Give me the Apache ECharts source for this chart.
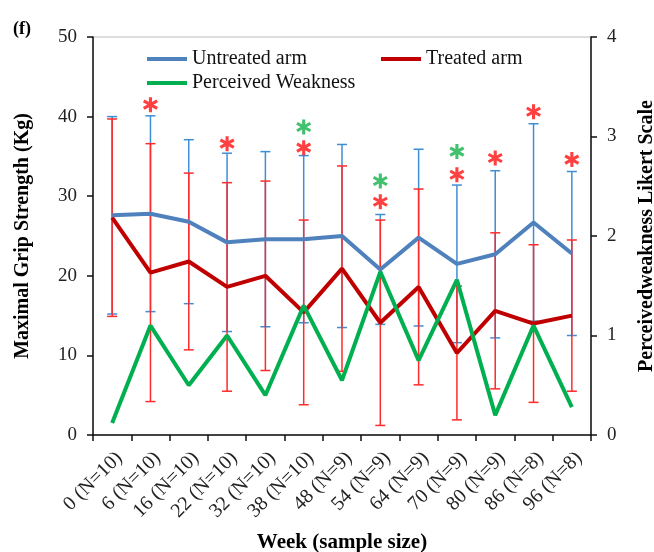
<!DOCTYPE html>
<html>
<head>
<meta charset="utf-8">
<script src="https://cdn.jsdelivr.net/npm/echarts@6/dist/echarts.min.js"></script>
<style>html,body{margin:0;padding:0;background:#fff}#c{width:654px;height:552px}</style>
</head>
<body>
<div id="c"></div>
<script>
var categories = ['0 (N=10)','6 (N=10)','16 (N=10)','22 (N=10)','32 (N=10)','38 (N=10)','48 (N=9)','54 (N=9)','64 (N=9)','70 (N=9)','80 (N=9)','86 (N=8)','96 (N=8)'];
var untreatedMean = [27.6, 27.8, 26.8, 24.2, 24.6, 24.6, 25.0, 20.8, 24.8, 21.5, 22.7, 26.7, 22.8];
var untreatedSD   = [12.4, 12.3, 10.3, 11.2, 11.0, 10.5, 11.5, 6.9, 11.1, 9.9, 10.5, 12.4, 10.3];
var treatedMean   = [27.3, 20.4, 21.8, 18.6, 20.0, 15.4, 20.9, 14.1, 18.6, 10.3, 15.6, 14.0, 15.0];
var treatedSD     = [12.4, 16.2, 11.1, 13.1, 11.9, 11.6, 12.9, 12.9, 12.3, 8.4, 9.8, 9.9, 9.5];
var weakness      = [0.12, 1.10, 0.50, 1.00, 0.40, 1.30, 0.55, 1.64, 0.75, 1.56, 0.20, 1.10, 0.28];
var redStars   = [[1, 41.5], [3, 36.6], [5, 36.1], [7, 29.3], [9, 32.7], [10, 34.8], [11, 40.6], [12, 34.6]];
var greenStars = [[5, 38.7], [7, 31.9], [9, 35.6]];
var leftTicks = [0, 10, 20, 30, 40, 50];
var rightTicks = [0, 1, 2, 3, 4];

var BLUE = '#4F81BD', RED = '#C00000', GREEN = '#00B050';
var ERR_BLUE = '#3E8ED6', ERR_RED = '#FF2A2A', STAR_RED = '#FF1010', STAR_GREEN = '#12B048';
var SERIF = '"Liberation Serif", "Times New Roman", serif';

var STAR = 'path://M8 0L12 0L12 20L8 20Z' +
  'M0.34 6.73L2.34 3.27L19.66 13.27L17.66 16.73Z' +
  'M2.34 16.73L0.34 13.27L17.66 3.27L19.66 6.73Z';

function errData(mean, sd) {
  return mean.map(function (m, i) { return [i, m - sd[i], m + sd[i]]; });
}
function errRenderer(color) {
  return function (params, api) {
    var x = api.value(0);
    var pLo = api.coord([x, api.value(1)]);
    var pHi = api.coord([x, api.value(2)]);
    var h = 5;
    var st = { stroke: color, lineWidth: 1.5 };
    return { type: 'group', children: [
      { type: 'line', shape: { x1: pHi[0], y1: pHi[1], x2: pLo[0], y2: pLo[1] }, style: st },
      { type: 'line', shape: { x1: pHi[0] - h, y1: pHi[1], x2: pHi[0] + h, y2: pHi[1] }, style: st },
      { type: 'line', shape: { x1: pLo[0] - h, y1: pLo[1], x2: pLo[0] + h, y2: pLo[1] }, style: st }
    ]};
  };
}

var chart = echarts.init(document.getElementById('c'), null, { renderer: 'canvas' });
var axisTextStyle = { fontFamily: SERIF, fontSize: 19, color: '#222' };
chart.setOption({
  animation: false,
  backgroundColor: '#fff',
  title: { text: '(f)', left: 8, top: 15, textStyle: { fontFamily: SERIF, fontSize: 18, fontWeight: 'bold', color: '#000' } },
  grid: { left: 93, right: 63, top: 37, bottom: 117, show: true, borderColor: '#bbbbbb', borderWidth: 1, containLabel: false, outerBoundsMode: 'none' },
  legend: [
    { data: ['Untreated arm', 'Perceived Weakness'], orient: 'vertical', left: 147, top: 49, padding: 0, itemWidth: 40, itemHeight: 4, itemGap: 4, icon: 'rect',
      textStyle: { fontFamily: SERIF, fontSize: 20, color: '#111' } },
    { data: ['Treated arm'], orient: 'vertical', left: 381, top: 49, padding: 0, itemWidth: 40, itemHeight: 4, icon: 'rect',
      textStyle: { fontFamily: SERIF, fontSize: 20, color: '#111' } }
  ],
  xAxis: {
    type: 'category', data: categories, boundaryGap: true,
    name: 'Week (sample size)', nameLocation: 'middle', nameGap: 97,
    nameTextStyle: { fontFamily: SERIF, fontSize: 21, fontWeight: 'bold', color: '#000' },
    axisLine: { lineStyle: { color: '#111', width: 1.5 } },
    axisTick: { show: true, interval: 0, length: 6, lineStyle: { color: '#111', width: 1.5 } },
    axisLabel: { interval: 0, rotate: 45, margin: 13, verticalAlign: 'top', fontFamily: SERIF, fontSize: 20, color: '#222' },
    splitLine: { show: false }
  },
  yAxis: [
    { type: 'value', min: 0, max: 50, interval: 10, position: 'left',
      name: 'Maximal Grip Strength (Kg)', nameLocation: 'middle', nameGap: 60, nameRotate: 90,
      nameTextStyle: { fontFamily: SERIF, fontSize: 20, fontWeight: 'bold', color: '#000' },
      axisLine: { show: true, lineStyle: { color: '#111', width: 1.5 } },
      axisTick: { show: true, length: 6, lineStyle: { color: '#111', width: 1.5 } },
      axisLabel: Object.assign({ margin: 16, formatter: function (v) { return leftTicks.indexOf(v) >= 0 ? String(v) : ''; } }, axisTextStyle),
      splitLine: { show: false } },
    { type: 'value', min: 0, max: 4, interval: 1, position: 'right',
      name: 'Perceivedweakness Likert Scale', nameLocation: 'middle', nameGap: 46, nameRotate: 90,
      nameTextStyle: { fontFamily: SERIF, fontSize: 20, fontWeight: 'bold', color: '#000' },
      axisLine: { show: true, lineStyle: { color: '#111', width: 1.5 } },
      axisTick: { show: true, length: 6, lineStyle: { color: '#111', width: 1.5 } },
      axisLabel: Object.assign({ margin: 16, formatter: function (v) { return rightTicks.indexOf(v) >= 0 ? String(v) : ''; } }, axisTextStyle),
      splitLine: { show: false } }
  ],
  series: [
    { name: 'errU', type: 'custom', yAxisIndex: 0, data: errData(untreatedMean, untreatedSD), renderItem: errRenderer(ERR_BLUE), encode: { x: 0, y: [1, 2] }, z: 1, silent: true },
    { name: 'errT', type: 'custom', yAxisIndex: 0, data: errData(treatedMean, treatedSD), renderItem: errRenderer(ERR_RED), encode: { x: 0, y: [1, 2] }, z: 2, silent: true },
    { name: 'Treated arm', type: 'line', yAxisIndex: 0, data: treatedMean, symbol: 'none', color: RED, lineStyle: { color: RED, width: 4 }, z: 3 },
    { name: 'Perceived Weakness', type: 'line', yAxisIndex: 1, data: weakness, symbol: 'none', color: GREEN, lineStyle: { color: GREEN, width: 4 }, z: 4 },
    { name: 'Untreated arm', type: 'line', yAxisIndex: 0, data: untreatedMean, symbol: 'none', color: BLUE, lineStyle: { color: BLUE, width: 4 }, z: 5 },
    { name: 'starR', type: 'scatter', yAxisIndex: 0, data: redStars, symbol: STAR, symbolSize: 15, itemStyle: { color: STAR_RED }, z: 6, silent: true },
    { name: 'starG', type: 'scatter', yAxisIndex: 0, data: greenStars, symbol: STAR, symbolSize: 15, itemStyle: { color: STAR_GREEN }, z: 6, silent: true }
  ]
});
</script>
</body>
</html>
